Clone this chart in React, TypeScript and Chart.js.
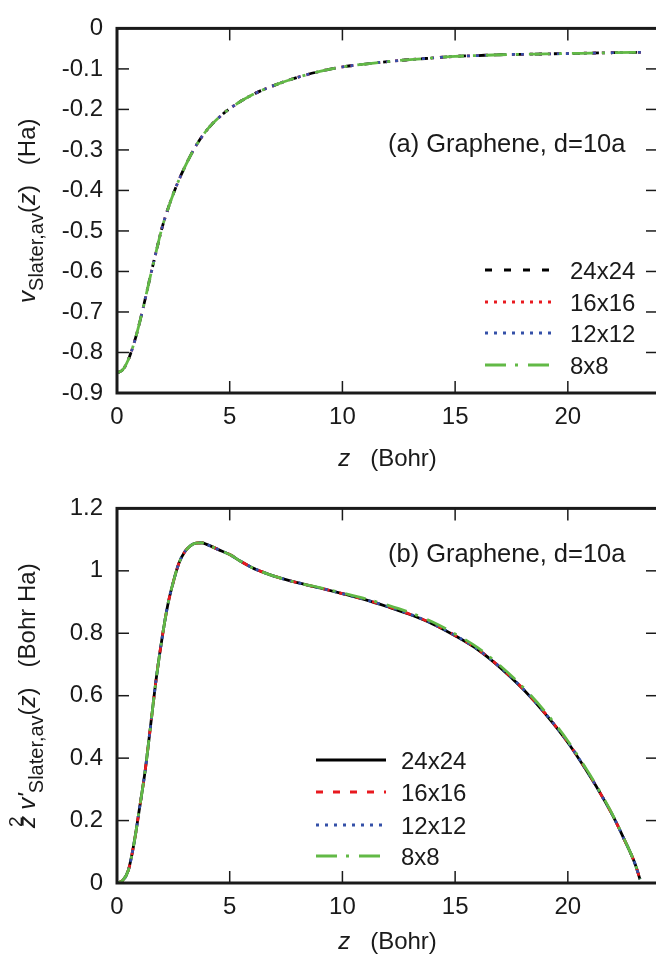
import React, { useEffect, useRef } from "react";
import { Chart, registerables } from "chart.js";
Chart.register(...registerables);

const FONT = '"Liberation Sans", Arial, Helvetica, sans-serif';
const INK = "#1a1a1a";

// ---- common ----
const gridLabels = ["24x24", "16x16", "12x12", "8x8"];
const lineColors = ["#000000", "#e8191f", "#3450a8", "#62b946"];
const xTicks = [0, 5, 10, 15, 20];

// ---- panel (a): v_Slater,av(z) ----
const zA = [0, 0.25, 0.5, 0.75, 1, 1.25, 1.5, 1.75, 2, 2.5, 3, 3.5, 4, 4.5, 5, 6, 7, 8, 9, 10, 11, 12, 13, 14, 15, 16, 17, 18, 19, 20, 21, 22, 23.3];
const vSlater24 = [-0.85, -0.843, -0.818, -0.778, -0.727, -0.668, -0.607, -0.548, -0.492, -0.408, -0.343, -0.29, -0.25, -0.221, -0.198, -0.164, -0.14, -0.121, -0.106, -0.095, -0.088, -0.082, -0.077, -0.073, -0.069, -0.067, -0.065, -0.064, -0.063, -0.062, -0.061, -0.06, -0.059];
const vSlater16 = [-0.85, -0.843, -0.818, -0.778, -0.727, -0.668, -0.607, -0.548, -0.492, -0.408, -0.343, -0.29, -0.25, -0.221, -0.198, -0.164, -0.14, -0.121, -0.106, -0.095, -0.088, -0.082, -0.077, -0.073, -0.069, -0.067, -0.065, -0.064, -0.063, -0.062, -0.061, -0.06, -0.059];
const vSlater12 = [-0.85, -0.843, -0.818, -0.778, -0.727, -0.668, -0.607, -0.548, -0.492, -0.408, -0.343, -0.29, -0.25, -0.221, -0.198, -0.164, -0.14, -0.121, -0.106, -0.095, -0.088, -0.082, -0.077, -0.073, -0.069, -0.067, -0.065, -0.064, -0.063, -0.062, -0.061, -0.06, -0.059];
const vSlater8 = [-0.85, -0.843, -0.818, -0.778, -0.727, -0.668, -0.607, -0.548, -0.492, -0.408, -0.343, -0.29, -0.25, -0.221, -0.198, -0.164, -0.14, -0.121, -0.106, -0.095, -0.088, -0.082, -0.077, -0.073, -0.069, -0.067, -0.065, -0.064, -0.063, -0.062, -0.061, -0.06, -0.059];
const yTicksA = [0, -0.1, -0.2, -0.3, -0.4, -0.5, -0.6, -0.7, -0.8, -0.9];

// ---- panel (b): z^2 v'_Slater,av(z) ----
const zB = [0, 0.25, 0.5, 0.75, 1, 1.25, 1.5, 1.75, 2, 2.25, 2.5, 2.75, 3, 3.25, 3.5, 3.75, 4, 4.5, 5, 5.5, 6, 6.5, 7, 8, 9, 10, 11, 12, 13, 14, 15, 16, 17, 18, 19, 20, 21, 21.5, 22, 22.5, 23, 23.2];
const dvSlater24 = [0, 0.008, 0.04, 0.125, 0.24, 0.36, 0.51, 0.66, 0.785, 0.89, 0.965, 1.025, 1.06, 1.08, 1.089, 1.09, 1.084, 1.068, 1.052, 1.03, 1.01, 0.995, 0.982, 0.962, 0.945, 0.927, 0.908, 0.885, 0.86, 0.83, 0.792, 0.748, 0.69, 0.622, 0.542, 0.45, 0.34, 0.28, 0.215, 0.14, 0.058, 0.012];
const dvSlater16 = [0, 0.008, 0.04, 0.125, 0.24, 0.36, 0.51, 0.66, 0.785, 0.89, 0.965, 1.025, 1.06, 1.08, 1.089, 1.09, 1.084, 1.068, 1.052, 1.03, 1.01, 0.995, 0.982, 0.962, 0.945, 0.927, 0.908, 0.886, 0.861, 0.831, 0.793, 0.749, 0.691, 0.623, 0.543, 0.451, 0.341, 0.28, 0.215, 0.14, 0.058, 0.012];
const dvSlater12 = [0, 0.008, 0.04, 0.125, 0.24, 0.36, 0.51, 0.66, 0.785, 0.89, 0.965, 1.025, 1.06, 1.08, 1.089, 1.09, 1.084, 1.068, 1.052, 1.03, 1.01, 0.995, 0.982, 0.962, 0.945, 0.927, 0.908, 0.886, 0.861, 0.831, 0.793, 0.749, 0.691, 0.623, 0.543, 0.451, 0.341, 0.28, 0.215, 0.14, 0.058, 0.012];
const dvSlater8 = [0, 0.008, 0.04, 0.125, 0.24, 0.36, 0.51, 0.66, 0.785, 0.89, 0.965, 1.025, 1.06, 1.08, 1.089, 1.09, 1.084, 1.068, 1.052, 1.03, 1.01, 0.995, 0.982, 0.962, 0.946, 0.929, 0.911, 0.89, 0.866, 0.836, 0.798, 0.754, 0.696, 0.628, 0.548, 0.455, 0.344, 0.283, 0.217, 0.141, 0.058, 0.012];
const yTicksB = [0, 0.2, 0.4, 0.6, 0.8, 1, 1.2];

type Seg = { t: string; size: number; italic?: boolean; dy?: number; dx?: number; adv?: number };

interface PanelSpec {
  z: number[];
  series: number[][];
  dashes: number[][];
  yMin: number;
  yMax: number;
  yTicks: number[];
  padTop: number;
  xAxisHeight: number;
  annotation: string;
  annotX: number;
  annotY: number;
  legendRows: number[];
  legendX0: number;
  legendX1: number;
  legendTextX: number;
  yTitle: Seg[];
  yTitleX: number;
  xTitleY: number;
}

function fontOf(s: Seg) {
  return `${s.italic ? "italic " : ""}${s.size}px ${FONT}`;
}

function drawRich(ctx: CanvasRenderingContext2D, segs: Seg[], cx: number, cy: number, rotated: boolean) {
  ctx.save();
  ctx.textBaseline = "alphabetic";
  ctx.textAlign = "left";
  ctx.fillStyle = INK;
  const widths = segs.map((s) => {
    ctx.font = fontOf(s);
    return ctx.measureText(s.t).width;
  });
  let total = 0;
  segs.forEach((s, i) => {
    total += (s.dx || 0) + (s.adv !== undefined ? s.adv : widths[i]);
  });
  ctx.translate(cx, cy);
  if (rotated) ctx.rotate(-Math.PI / 2);
  let x = -total / 2;
  segs.forEach((s, i) => {
    x += s.dx || 0;
    ctx.font = fontOf(s);
    ctx.fillText(s.t, x, s.dy || 0);
    x += s.adv !== undefined ? s.adv : widths[i];
  });
  ctx.restore();
}

function makePlugin(spec: PanelSpec) {
  return {
    id: "panelDecor",
    afterDraw(chart: any) {
      const ctx: CanvasRenderingContext2D = chart.ctx;
      const { left, right, top, bottom } = chart.chartArea;
      const xs = chart.scales.x;
      const ys = chart.scales.y;
      ctx.save();
      ctx.strokeStyle = INK;
      ctx.setLineDash([]);
      ctx.lineWidth = 1.5;
      const seg = (x0: number, y0: number, x1: number, y1: number) => {
        ctx.beginPath();
        ctx.moveTo(x0, y0);
        ctx.lineTo(x1, y1);
        ctx.stroke();
      };
      xs.ticks.forEach((t: any) => {
        const px = xs.getPixelForValue(t.value);
        seg(px, bottom, px, bottom - 12);
        seg(px, top, px, top + 12);
      });
      ys.ticks.forEach((t: any) => {
        const py = ys.getPixelForValue(t.value);
        seg(left, py, left + 12, py);
        seg(right, py, right - 12, py);
      });
      ctx.lineWidth = 3;
      ctx.strokeRect(left, top, right - left, bottom - top);

      // annotation
      ctx.fillStyle = INK;
      ctx.font = `25.5px ${FONT}`;
      ctx.textAlign = "left";
      ctx.textBaseline = "alphabetic";
      ctx.fillText(spec.annotation, spec.annotX, spec.annotY);

      // legend
      gridLabels.forEach((lab, i) => {
        const y = spec.legendRows[i];
        ctx.strokeStyle = lineColors[i];
        ctx.lineWidth = 3;
        ctx.setLineDash(spec.dashes[i]);
        seg(spec.legendX0, y, spec.legendX1, y);
        ctx.setLineDash([]);
        ctx.fillStyle = INK;
        ctx.font = `24px ${FONT}`;
        ctx.fillText(lab, spec.legendTextX, y + 8.5);
      });

      // axis titles
      drawRich(ctx, spec.yTitle, spec.yTitleX, (top + bottom) / 2, true);
      drawRich(
        ctx,
        [
          { t: "z", size: 24, italic: true },
          { t: "   (Bohr)", size: 24 },
        ],
        (left + right) / 2,
        spec.xTitleY,
        false
      );
      ctx.restore();
    },
  };
}

function makeConfig(spec: PanelSpec): any {
  const orders = [4, 3, 2, 1];
  return {
    type: "line",
    data: {
      datasets: spec.series.map((ys, i) => ({
        label: gridLabels[i],
        data: spec.z.map((z, k) => ({ x: z, y: ys[k] })),
        borderColor: lineColors[i],
        borderWidth: 2.8,
        borderDash: spec.dashes[i],
        pointRadius: 0,
        fill: false,
        cubicInterpolationMode: "monotone",
        order: orders[i],
      })),
    },
    options: {
      responsive: false,
      animation: false,
      layout: { padding: { top: spec.padTop, right: 12, left: 0, bottom: 0 } },
      plugins: { legend: { display: false }, tooltip: { enabled: false } },
      scales: {
        x: {
          type: "linear",
          min: 0,
          max: 24,
          grid: { display: false, drawTicks: false },
          border: { display: false },
          afterBuildTicks: (s: any) => {
            s.ticks = xTicks.map((v) => ({ value: v }));
          },
          afterFit: (s: any) => {
            s.height = spec.xAxisHeight;
          },
          ticks: {
            font: { family: FONT, size: 24 },
            color: INK,
            padding: 10,
            maxRotation: 0,
            autoSkip: false,
            callback: (v: number) => String(v),
          },
        },
        y: {
          type: "linear",
          min: spec.yMin,
          max: spec.yMax,
          grid: { display: false, drawTicks: false },
          border: { display: false },
          afterBuildTicks: (s: any) => {
            s.ticks = spec.yTicks.map((v) => ({ value: v }));
          },
          afterFit: (s: any) => {
            s.width = 117;
          },
          ticks: {
            font: { family: FONT, size: 24 },
            color: INK,
            padding: 14,
            autoSkip: false,
            callback: (v: number) => String(Math.round(v * 10) / 10),
          },
        },
      },
    },
    plugins: [makePlugin(spec)],
  };
}

const specA: PanelSpec = {
  z: zA,
  series: [vSlater24, vSlater16, vSlater12, vSlater8],
  dashes: [[7, 12], [3, 6], [3, 6], [21, 9, 3, 10]],
  yMin: -0.9,
  yMax: 0,
  yTicks: yTicksA,
  padTop: 15,
  xAxisHeight: 87,
  annotation: "(a) Graphene, d=10a",
  annotX: 388,
  annotY: 152,
  legendRows: [270, 302, 333, 365],
  legendX0: 485,
  legendX1: 553,
  legendTextX: 570,
  yTitle: [
    { t: "v", size: 24, italic: true },
    { t: "Slater,av", size: 20, dy: 8 },
    { t: "(", size: 24 },
    { t: "z", size: 24, italic: true },
    { t: ")   (Ha)", size: 24 },
  ],
  yTitleX: 35,
  xTitleY: 466,
};

const specB: PanelSpec = {
  z: zB,
  series: [dvSlater24, dvSlater16, dvSlater12, dvSlater8],
  dashes: [[], [7, 10], [3, 6], [21, 9, 3, 10]],
  yMin: 0,
  yMax: 1.2,
  yTicks: yTicksB,
  padTop: 25,
  xAxisHeight: 77,
  annotation: "(b) Graphene, d=10a",
  annotX: 388,
  annotY: 562 - 480,
  legendRows: [760 - 480, 792 - 480, 825 - 480, 856 - 480],
  legendX0: 316,
  legendX1: 386,
  legendTextX: 401,
  yTitle: [
    { t: "z", size: 24, italic: true, adv: 1 },
    { t: "2", size: 19, dy: -13 },
    { t: " v'", size: 24, italic: true },
    { t: "Slater,av", size: 20, dy: 8 },
    { t: "(", size: 24 },
    { t: "z", size: 24, italic: true },
    { t: ")   (Bohr Ha)", size: 24 },
  ],
  yTitleX: 35,
  xTitleY: 949 - 480,
};

function Panel({ spec }: { spec: PanelSpec }) {
  const ref = useRef<HTMLCanvasElement | null>(null);
  useEffect(() => {
    if (!ref.current) return;
    const chart = new Chart(ref.current, makeConfig(spec));
    return () => chart.destroy();
  }, [spec]);
  return <canvas ref={ref} width={670} height={480} style={{ display: "block", width: 670, height: 480 }} />;
}

export default function App() {
  return (
    <div
      style={{
        position: "absolute",
        left: 0,
        top: 0,
        width: 656,
        height: 960,
        overflow: "hidden",
        background: "#ffffff",
      }}
    >
      <Panel spec={specA} />
      <Panel spec={specB} />
    </div>
  );
}
